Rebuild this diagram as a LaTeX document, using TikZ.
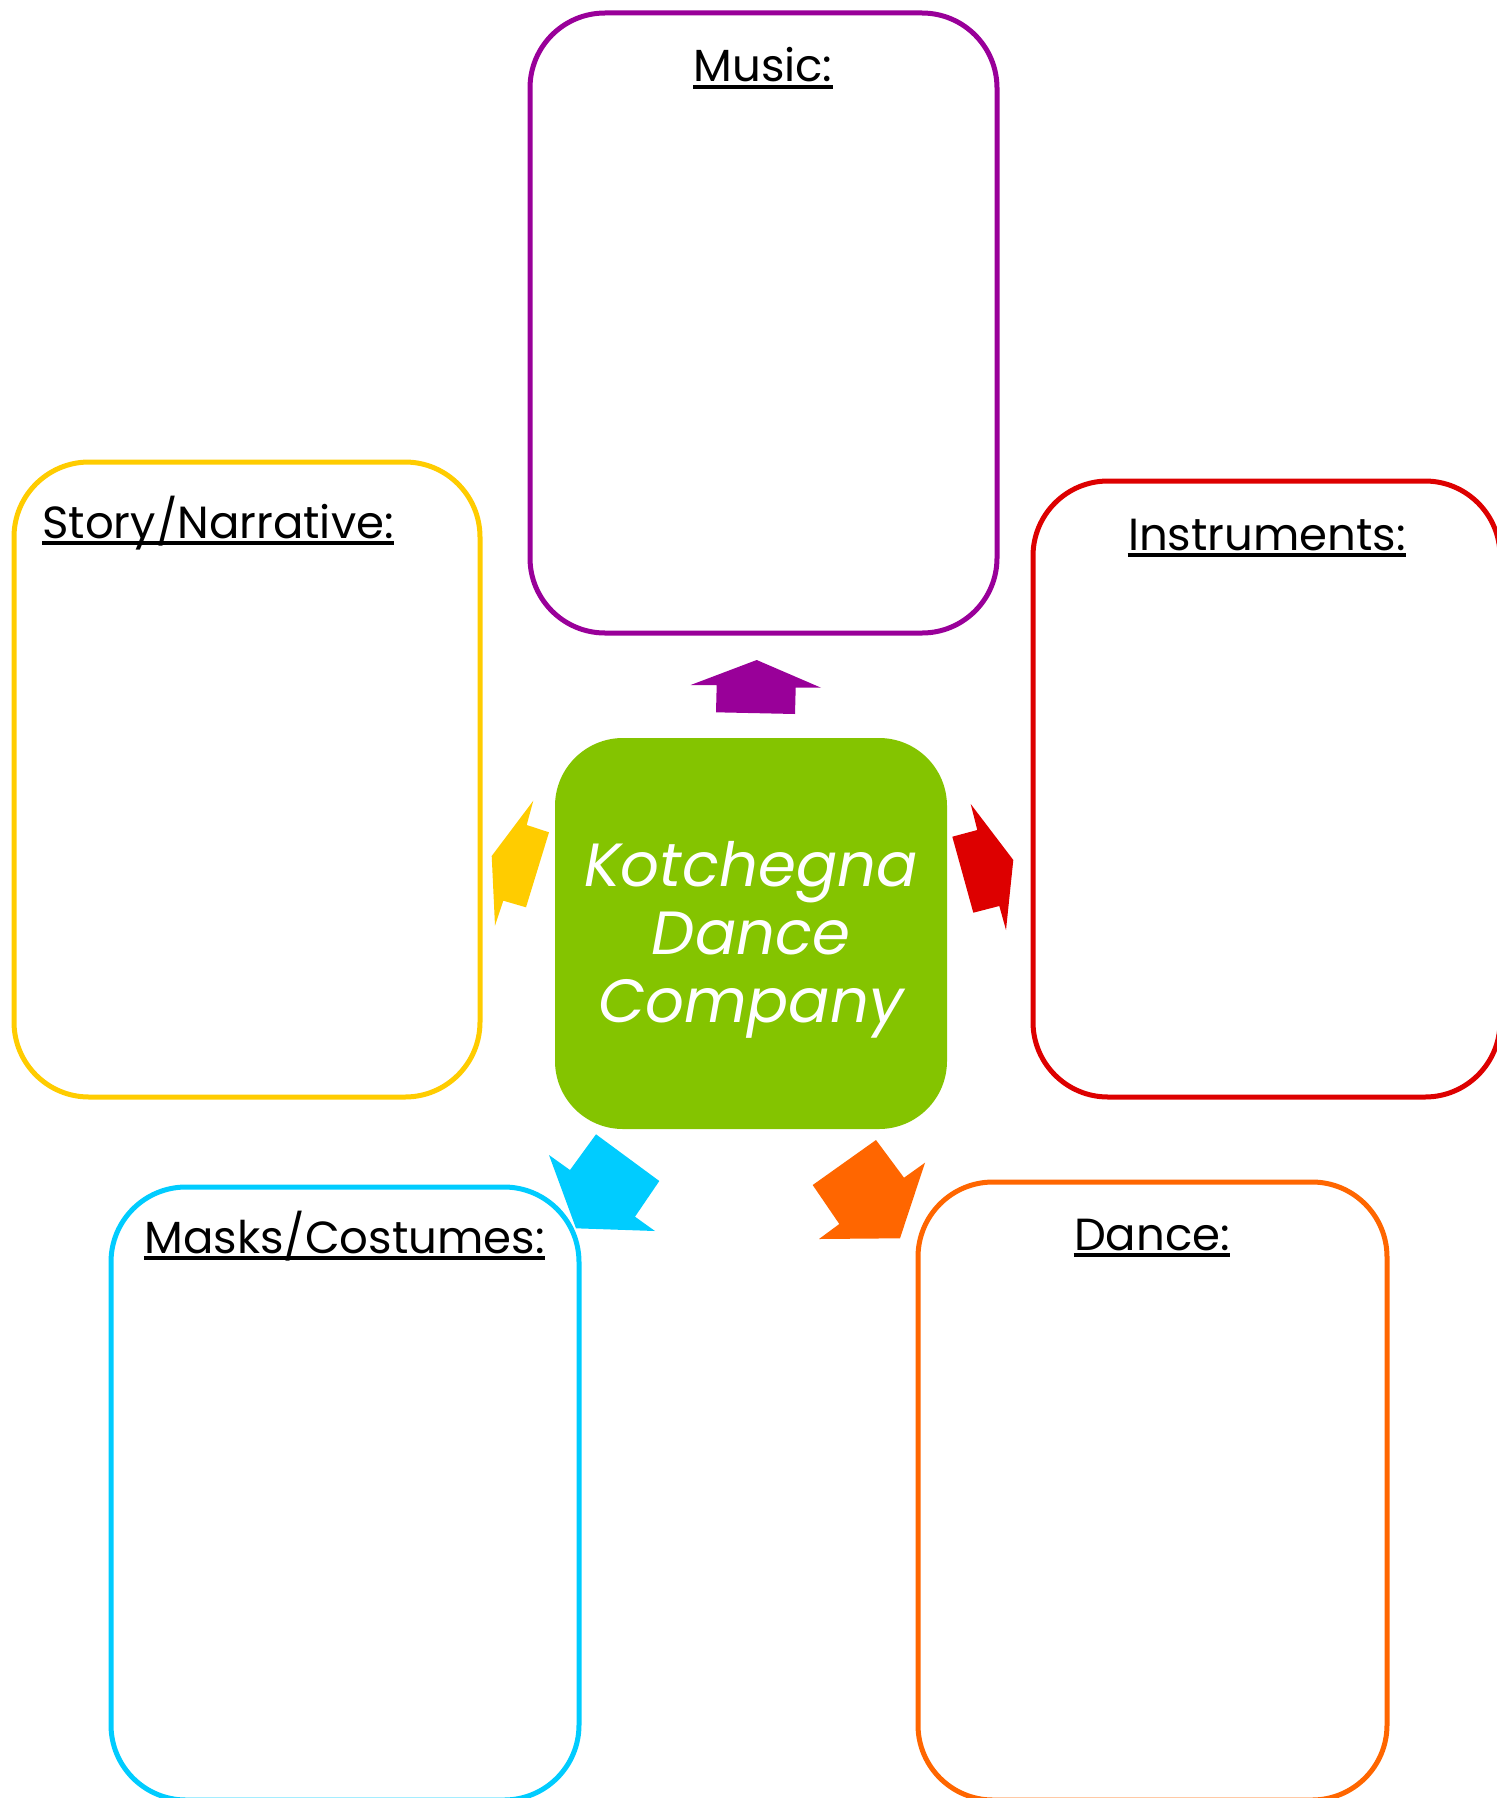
\documentclass[tikz,border=0pt]{standalone}
\usepackage{fontspec}
\setmainfont{Poppins}
\definecolor{musicpurple}{HTML}{990099}
\definecolor{storyyellow}{HTML}{FFCC00}
\definecolor{instrred}{HTML}{DD0000}
\definecolor{maskcyan}{HTML}{00CCFF}
\definecolor{danceorange}{HTML}{FF6600}
\definecolor{hubgreen}{HTML}{84C400}

\begin{document}
\begin{tikzpicture}[x=0.5pt,y=-0.5pt,
    card/.style={draw,line width=2.5pt,rounded corners=37.5pt,inner sep=0pt,minimum width=233.5pt},
    card title/.style={inner sep=0pt,anchor=base,font=\fontsize{22.5}{27}\selectfont},
    title line/.style={line width=1.6pt},
    hub/.style={fill=hubgreen,rounded corners=34pt,minimum width=196pt,minimum height=195.5pt},
    hub text/.style={text=white,align=center,font=\fontsize{30.5}{34}\selectfont\itshape}]
    \useasboundingbox (0,0) rectangle (1497,1798);

    % the five cards
    \node[card, draw=musicpurple, minimum height=310pt] (music) at (763.5,323) {};
    \node[card, draw=storyyellow, minimum width=233pt, minimum height=317.5pt] (story) at (247,779.5) {};
    \node[card, draw=instrred, minimum height=308pt] (instr) at (1266.5,789) {};
    \node[card, draw=maskcyan, minimum width=234pt, minimum height=306.5pt] (masks) at (345,1493.5) {};
    \node[card, draw=danceorange, minimum width=234.5pt, minimum height=309pt] (dance) at (1152.5,1491) {};

    \node[card title] (t1) at (763,82) {Music:};
    \node[card title, anchor=base west] (t2) at (42,538) {Story/Narrative:};
    \node[card title] (t3) at (1267,550) {Instruments:};
    \node[card title] (t4) at (344.5,1253) {Masks/Costumes:};
    \node[card title] (t5) at (1152,1250) {Dance:};
    \foreach \t in {t1,t2,t3,t4,t5}
        \draw[title line] ([yshift=-2.5pt]\t.base west) -- ([yshift=-2.5pt]\t.base east);

    \node[hub] (hub) at (751,933.5) {};
    \node[hub text] (hubtext) at (751,939.5) {Kotchegna\\Dance\\Company};

    % block arrows
    \fill[musicpurple] (756.7,660) -- (821,687.7) -- (795.7,687.7) -- (795,714) -- (716,712.3) -- (716.7,685) -- (690.7,685) -- cycle;
    \fill[storyyellow] (533.3,800.7) -- (526.7,825) -- (549,832.3) -- (526,907.3) -- (503.3,900.7) -- (495,925.7) -- (491.7,856) -- cycle;
    \fill[instrred] (970.7,804) -- (1013.3,860) -- (1006,930) -- (999.3,906) -- (973.3,912.7) -- (952.3,836.7) -- (977.3,830) -- cycle;
    \fill[maskcyan] (596,1134.3) -- (659.3,1181) -- (635,1216.7) -- (655,1231) -- (576,1228.3) -- (549,1155) -- (570,1170) -- cycle;
    \fill[danceorange] (876,1140) -- (904,1177.7) -- (925,1162.7) -- (900,1238.3) -- (819,1239) -- (839.3,1224) -- (812.7,1185) -- cycle;
\end{tikzpicture}
\end{document}
